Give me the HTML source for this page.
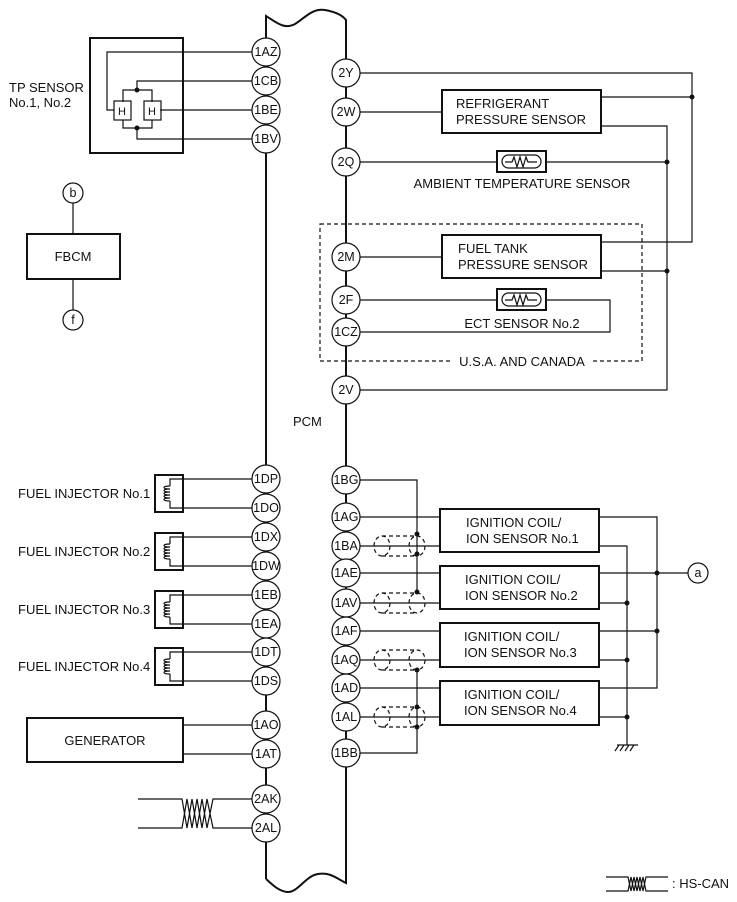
<!DOCTYPE html>
<html><head><style>
body{margin:0;background:#fff}
svg{display:block;font-family:"Liberation Sans",sans-serif}
text{fill:#111}
</style></head><body>
<svg width="737" height="902" viewBox="0 0 737 902" xmlns="http://www.w3.org/2000/svg">
<g fill="none" stroke="#111" stroke-width="1.2">
<path d="M266,879 V16 C276,22 284,30 295,24 C305,18 312,8 325,10 C336,12 343,16 346,20 V883 C336,878 330,872 318,874 C305,876 298,893 287,892 C278,891 272,884 266,879" stroke-width="2"/>
<rect x="90" y="38" width="93" height="115" stroke-width="2"/>
<path d="M252,52 H107 V110 H114"/>
<path d="M252,81 H137 V90"/>
<path d="M123,102 V90 H152 V102 M123,120 V128 H152 V120"/>
<path d="M137,128 V139 H252"/>
<path d="M160,110 H252"/>
<rect x="114" y="101" width="17" height="19"/>
<rect x="144" y="101" width="17" height="19"/>
<rect x="27" y="234" width="93" height="45" stroke-width="2"/>
<path d="M73,203 V234 M73,279 V310"/>
<circle cx="73" cy="193" r="10"/><circle cx="73" cy="320" r="10"/>
<path d="M360,73 H692 V242 H601"/>
<path d="M601,97 H692"/>
<rect x="442" y="90" width="159" height="43" stroke-width="2"/>
<path d="M360,112 H442"/>
<path d="M601,126 H667 V390 H360"/>
<path d="M360,162 H667"/>
<rect x="497" y="151" width="49" height="21" stroke-width="2" fill="#fff"/>
<rect x="502" y="155" width="39" height="13" rx="6.5"/>
<path d="M505,162 H512 L514,157 L517,167 L520,157 L523,167 L526,157 L528,162 H537"/>
<rect x="320" y="224" width="322" height="137" stroke-dasharray="4,3"/>
<rect x="442" y="235" width="159" height="43" stroke-width="2"/>
<path d="M360,257 H442"/>
<path d="M601,271 H667"/>
<path d="M360,300 H610 V332 H360"/>
<rect x="497" y="289" width="49" height="21" stroke-width="2" fill="#fff"/>
<rect x="502" y="293" width="39" height="13" rx="6.5"/>
<path d="M505,300 H512 L514,295 L517,305 L520,295 L523,305 L526,295 L528,300 H537"/>
<path d="M360,480 H417 V592"/>
<path d="M417,670 V753 H360"/>
<path d="M360,517 H657 V688 H599"/>
<path d="M360,573 H688"/>
<path d="M599,631 H657"/>
<path d="M360,546 H440 M360,603 H440 M360,660 H440 M360,717 H440 M360,631 H440 M360,688 H440"/>
<path d="M599,546 H627 V745 M599,603 H627 M599,660 H627 M599,717 H627"/>
<path d="M617,745 H638 M619,745 l-4,6 M624,745 l-4,6 M629,745 l-4,6 M634,745 l-4,6"/>
<circle cx="698" cy="573" r="10"/>
<rect x="440" y="509" width="159" height="43" stroke-width="2" fill="#fff"/>
<rect x="440" y="566" width="159" height="43" stroke-width="2" fill="#fff"/>
<rect x="440" y="623" width="159" height="44" stroke-width="2" fill="#fff"/>
<rect x="440" y="681" width="159" height="44" stroke-width="2" fill="#fff"/>
<g stroke-dasharray="4,3">
<ellipse cx="382" cy="546" rx="8" ry="10"/><ellipse cx="417" cy="546" rx="8" ry="10"/><path d="M382,536 H417 M382,556 H417"/>
<ellipse cx="382" cy="603" rx="8" ry="10"/><ellipse cx="417" cy="603" rx="8" ry="10"/><path d="M382,593 H417 M382,613 H417"/>
<ellipse cx="382" cy="660" rx="8" ry="10"/><ellipse cx="417" cy="660" rx="8" ry="10"/><path d="M382,650 H417 M382,670 H417"/>
<ellipse cx="382" cy="717" rx="8" ry="10"/><ellipse cx="417" cy="717" rx="8" ry="10"/><path d="M382,707 H417 M382,727 H417"/>
</g>
<g id="inj">
<rect x="155" y="475" width="28" height="37" stroke-width="2"/>
<path d="M252,479 H170 V486 M252,508 H170 V501"/>
<path d="M170,486 C162,486 162,489 170,489 C162,489 162,492 170,492 C162,492 162,495 170,495 C162,495 162,498 170,498 C162,498 162,501 170,501"/>
</g>
<use href="#inj" y="58"/><use href="#inj" y="116"/><use href="#inj" y="173"/>
<rect x="27" y="718" width="156" height="44" stroke-width="2"/>
<path d="M183,725 H252 M183,754 H252"/>
<path d="M138,799 H182 L187,828 L192,799 L197,828 L202,799 L207,828 L213,799 H252"/>
<path d="M138,828 H182 L187,799 L192,828 L197,799 L202,828 L207,799 L213,828 H252"/>
<path d="M606,877 H628 L631,891 L634,877 L637,891 L640,877 L643,891 L646,877 H668"/>
<path d="M606,891 H628 L631,877 L634,891 L637,877 L640,891 L643,877 L646,891 H668"/>
</g>
<g fill="#111">
<circle cx="137" cy="90" r="2.5"/><circle cx="137" cy="128" r="2.5"/>
<circle cx="692" cy="97" r="2.5"/><circle cx="667" cy="162" r="2.5"/><circle cx="667" cy="271" r="2.5"/>
<circle cx="417" cy="534" r="2.5"/><circle cx="417" cy="554" r="2.5"/><circle cx="417" cy="592" r="2.5"/>
<circle cx="417" cy="670" r="2.5"/><circle cx="417" cy="707" r="2.5"/><circle cx="417" cy="727" r="2.5"/>
<circle cx="657" cy="573" r="2.5"/><circle cx="657" cy="631" r="2.5"/>
<circle cx="627" cy="603" r="2.5"/><circle cx="627" cy="660" r="2.5"/><circle cx="627" cy="717" r="2.5"/>
</g>
<g fill="#fff" stroke="#111" stroke-width="1.2">
<circle cx="266" cy="52" r="14"/><circle cx="266" cy="81" r="14"/><circle cx="266" cy="110" r="14"/><circle cx="266" cy="139" r="14"/>
<circle cx="266" cy="479" r="14"/><circle cx="266" cy="508" r="14"/><circle cx="266" cy="537" r="14"/><circle cx="266" cy="566" r="14"/>
<circle cx="266" cy="595" r="14"/><circle cx="266" cy="624" r="14"/><circle cx="266" cy="652" r="14"/><circle cx="266" cy="681" r="14"/>
<circle cx="266" cy="725" r="14"/><circle cx="266" cy="754" r="14"/><circle cx="266" cy="799" r="14"/><circle cx="266" cy="828" r="14"/>
<circle cx="346" cy="73" r="14"/><circle cx="346" cy="112" r="14"/><circle cx="346" cy="162" r="14"/><circle cx="346" cy="257" r="14"/>
<circle cx="346" cy="300" r="14"/><circle cx="346" cy="332" r="14"/><circle cx="346" cy="390" r="14"/>
<circle cx="346" cy="480" r="14"/><circle cx="346" cy="517" r="14"/><circle cx="346" cy="546" r="14"/><circle cx="346" cy="573" r="14"/>
<circle cx="346" cy="603" r="14"/><circle cx="346" cy="631" r="14"/><circle cx="346" cy="660" r="14"/><circle cx="346" cy="688" r="14"/>
<circle cx="346" cy="717" r="14"/><circle cx="346" cy="753" r="14"/>
</g>
<g font-size="12.5" text-anchor="middle">
<text x="266" y="56">1AZ</text><text x="266" y="85">1CB</text><text x="266" y="114">1BE</text><text x="266" y="143">1BV</text>
<text x="266" y="483">1DP</text><text x="266" y="512">1DO</text><text x="266" y="541">1DX</text><text x="266" y="570">1DW</text>
<text x="266" y="599">1EB</text><text x="266" y="628">1EA</text><text x="266" y="656">1DT</text><text x="266" y="685">1DS</text>
<text x="266" y="729">1AO</text><text x="266" y="758">1AT</text><text x="266" y="803">2AK</text><text x="266" y="832">2AL</text>
<text x="346" y="77">2Y</text><text x="346" y="116">2W</text><text x="346" y="166">2Q</text><text x="346" y="261">2M</text>
<text x="346" y="304">2F</text><text x="346" y="336">1CZ</text><text x="346" y="394">2V</text>
<text x="346" y="484">1BG</text><text x="346" y="521">1AG</text><text x="346" y="550">1BA</text><text x="346" y="577">1AE</text>
<text x="346" y="607">1AV</text><text x="346" y="635">1AF</text><text x="346" y="664">1AQ</text><text x="346" y="692">1AD</text>
<text x="346" y="721">1AL</text><text x="346" y="757">1BB</text>
<text x="73" y="197">b</text><text x="73" y="324">f</text><text x="698" y="577">a</text>
<text x="122" y="115" font-size="11">H</text><text x="152" y="115" font-size="11">H</text>
</g>
<g font-size="13" text-anchor="middle">
<text x="73" y="261">FBCM</text>
<text x="105" y="745">GENERATOR</text>
<text x="522" y="188">AMBIENT TEMPERATURE SENSOR</text>
<text x="522" y="328">ECT SENSOR No.2</text>
</g>
<g font-size="13">
<text x="9" y="92">TP SENSOR</text><text x="9" y="107">No.1, No.2</text>
<text x="293" y="426">PCM</text>
<text x="456" y="108">REFRIGERANT</text><text x="456" y="124">PRESSURE SENSOR</text>
<text x="458" y="253">FUEL TANK</text><text x="458" y="269">PRESSURE SENSOR</text>
<text x="18" y="498">FUEL INJECTOR No.1</text><text x="18" y="556">FUEL INJECTOR No.2</text>
<text x="18" y="614">FUEL INJECTOR No.3</text><text x="18" y="671">FUEL INJECTOR No.4</text>
<text x="466" y="527">IGNITION COIL/</text><text x="466" y="543">ION SENSOR No.1</text>
<text x="465" y="584">IGNITION COIL/</text><text x="465" y="600">ION SENSOR No.2</text>
<text x="464" y="641">IGNITION COIL/</text><text x="464" y="657">ION SENSOR No.3</text>
<text x="464" y="699">IGNITION COIL/</text><text x="464" y="715">ION SENSOR No.4</text>
<text x="672" y="888">: HS-CAN</text>
</g>
<rect x="452" y="355" width="140" height="14" fill="#fff"/>
<text x="522" y="366" font-size="13" text-anchor="middle">U.S.A. AND CANADA</text>
</svg>
</body></html>
